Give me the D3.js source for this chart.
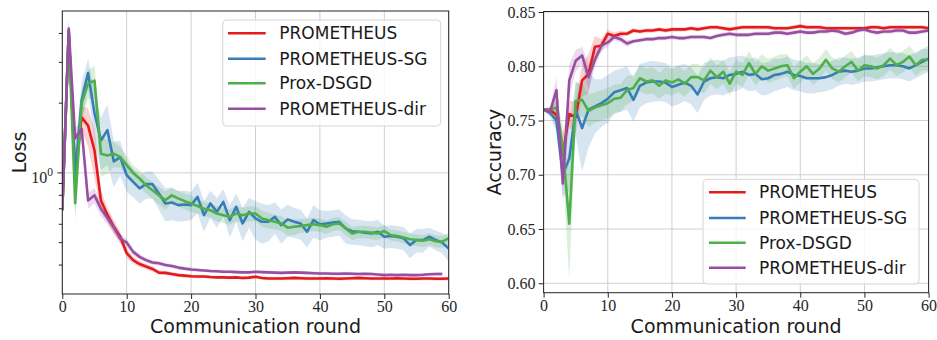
<!DOCTYPE html>
<html><head><meta charset="utf-8">
<script src="https://cdn.jsdelivr.net/npm/d3@7"></script>
<style>body{margin:0;background:#fff}</style>
</head><body><svg id="c" width="937" height="340"></svg>
<script>
// ---------------- DATA ----------------
const seriesNames = ["PROMETHEUS", "PROMETHEUS-SG", "Prox-DSGD", "PROMETHEUS-dir"];
const seriesColors = ["#e41a1c", "#377eb8", "#4daf4a", "#984ea3"];
const xTicks = [0, 10, 20, 30, 40, 50, 60];
const accTicks = [0.60, 0.65, 0.70, 0.75, 0.80, 0.85];
const lossMajorTicks = [1];
const lossMinorTicks = [0.4, 0.5, 0.6, 0.7, 0.8, 0.9, 2, 3, 4];

// Loss (left panel)
const lossProm = [0.69,4.1,0.98,1.74,1.60,1.25,0.76,0.66,0.585,0.53,0.45,0.42,0.404,0.394,0.385,0.371,0.370,0.366,0.362,0.360,0.358,0.357,0.357,0.355,0.354,0.354,0.353,0.354,0.352,0.353,0.356,0.352,0.350,0.350,0.350,0.351,0.352,0.351,0.350,0.350,0.350,0.351,0.350,0.349,0.350,0.351,0.352,0.351,0.350,0.350,0.350,0.350,0.351,0.350,0.349,0.349,0.350,0.350,0.349,0.349,0.350];
const lossPromStd = [0.01,0.3,0.15,0.2,0.3,0.3,0.08,0.05,0.04,0.03,0.02,0.015,0.012,0.01,0.01,0.008,0.008,0.007,0.007,0.007,0.006,0.006,0.006,0.006,0.006,0.006,0.006,0.006,0.006,0.006,0.006,0.006,0.006,0.006,0.006,0.006,0.006,0.006,0.006,0.006,0.006,0.006,0.006,0.006,0.006,0.006,0.006,0.006,0.006,0.006,0.006,0.006,0.006,0.006,0.006,0.006,0.006,0.006,0.006,0.006,0.006];
const lossSG = [0.69,4.1,0.98,2.06,2.70,1.81,1.38,1.53,1.12,1.17,0.977,0.915,0.857,0.894,0.894,0.815,0.738,0.745,0.726,0.73,0.726,0.788,0.657,0.738,0.679,0.75,0.625,0.714,0.605,0.679,0.636,0.615,0.615,0.646,0.595,0.63,0.615,0.605,0.557,0.625,0.60,0.605,0.61,0.615,0.576,0.56,0.557,0.552,0.548,0.557,0.53,0.534,0.53,0.522,0.488,0.513,0.513,0.53,0.513,0.50,0.472];
const lossSGStd = [0.01,0.5,0.3,0.4,0.4,0.45,0.35,0.45,0.25,0.2,0.15,0.13,0.12,0.12,0.12,0.12,0.12,0.12,0.11,0.11,0.1,0.12,0.1,0.1,0.1,0.1,0.1,0.1,0.1,0.1,0.12,0.12,0.11,0.1,0.1,0.1,0.09,0.09,0.08,0.1,0.09,0.08,0.08,0.08,0.08,0.07,0.07,0.07,0.07,0.07,0.06,0.06,0.06,0.06,0.06,0.06,0.06,0.05,0.05,0.05,0.06];
const lossProx = [0.69,4.0,0.74,2.0,2.43,2.50,1.21,1.19,1.21,1.17,1.08,1.0,0.946,0.885,0.842,0.80,0.763,0.80,0.776,0.755,0.738,0.72,0.70,0.69,0.668,0.657,0.646,0.668,0.657,0.668,0.668,0.636,0.625,0.615,0.605,0.58,0.585,0.59,0.595,0.60,0.595,0.585,0.60,0.605,0.576,0.548,0.557,0.557,0.552,0.548,0.561,0.539,0.534,0.526,0.517,0.513,0.509,0.517,0.507,0.505,0.522];
const lossProxStd = [0.01,0.5,0.12,0.3,0.35,0.4,0.25,0.2,0.15,0.12,0.1,0.08,0.08,0.07,0.07,0.07,0.07,0.06,0.06,0.06,0.06,0.05,0.05,0.05,0.05,0.05,0.05,0.05,0.05,0.05,0.05,0.05,0.05,0.045,0.045,0.045,0.045,0.04,0.04,0.04,0.04,0.04,0.04,0.04,0.04,0.035,0.035,0.035,0.035,0.035,0.035,0.03,0.03,0.03,0.03,0.03,0.03,0.03,0.03,0.03,0.03];
const lossDir = [0.69,4.2,1.41,1.55,0.76,0.80,0.70,0.64,0.58,0.52,0.50,0.456,0.434,0.42,0.41,0.407,0.40,0.396,0.39,0.386,0.383,0.381,0.379,0.377,0.376,0.374,0.374,0.373,0.372,0.372,0.374,0.373,0.372,0.371,0.370,0.371,0.372,0.371,0.370,0.369,0.368,0.368,0.367,0.367,0.368,0.367,0.366,0.367,0.366,0.364,0.362,0.363,0.362,0.363,0.362,0.362,0.363,0.365,0.366,0.366];
const lossDirStd = [0.01,0.3,0.15,0.15,0.06,0.06,0.05,0.04,0.03,0.025,0.02,0.015,0.012,0.01,0.01,0.008,0.008,0.008,0.007,0.007,0.007,0.007,0.006,0.006,0.006,0.006,0.006,0.006,0.006,0.006,0.006,0.006,0.006,0.006,0.006,0.006,0.006,0.006,0.006,0.006,0.006,0.006,0.006,0.006,0.006,0.006,0.006,0.006,0.006,0.006,0.006,0.006,0.006,0.006,0.006,0.006,0.006,0.006,0.006,0.006];

// Accuracy (right panel)
const accProm = [0.760,0.760,0.755,0.718,0.756,0.753,0.787,0.793,0.818,0.819,0.830,0.828,0.830,0.830,0.833,0.832,0.833,0.833,0.834,0.833,0.834,0.834,0.834,0.835,0.834,0.835,0.836,0.836,0.835,0.834,0.835,0.836,0.836,0.836,0.836,0.836,0.835,0.835,0.835,0.836,0.837,0.836,0.836,0.836,0.835,0.835,0.835,0.835,0.835,0.835,0.835,0.836,0.836,0.835,0.836,0.836,0.836,0.836,0.836,0.836,0.835];
const accPromStd = [0.001,0.002,0.012,0.02,0.012,0.015,0.015,0.018,0.01,0.006,0.004,0.003,0.003,0.002,0.002,0.002,0.002,0.002,0.002,0.002,0.002,0.002,0.002,0.002,0.002,0.002,0.002,0.002,0.002,0.002,0.002,0.002,0.002,0.002,0.002,0.002,0.002,0.002,0.002,0.002,0.002,0.002,0.002,0.002,0.002,0.002,0.002,0.002,0.002,0.002,0.002,0.002,0.002,0.002,0.002,0.002,0.002,0.002,0.002,0.002,0.002];
const accSG = [0.760,0.757,0.750,0.700,0.715,0.760,0.743,0.760,0.763,0.766,0.770,0.776,0.778,0.780,0.769,0.782,0.785,0.786,0.786,0.785,0.781,0.783,0.785,0.782,0.774,0.786,0.789,0.790,0.789,0.792,0.793,0.795,0.792,0.793,0.788,0.789,0.792,0.793,0.795,0.792,0.791,0.789,0.789,0.789,0.790,0.792,0.795,0.796,0.795,0.796,0.798,0.798,0.799,0.800,0.801,0.801,0.800,0.798,0.801,0.804,0.807];
const accSGStd = [0.001,0.004,0.01,0.02,0.03,0.025,0.04,0.035,0.025,0.022,0.022,0.02,0.02,0.02,0.02,0.02,0.019,0.019,0.018,0.018,0.018,0.018,0.017,0.017,0.017,0.017,0.016,0.016,0.016,0.016,0.016,0.015,0.015,0.015,0.015,0.015,0.015,0.014,0.014,0.014,0.014,0.014,0.014,0.013,0.013,0.013,0.013,0.012,0.012,0.012,0.012,0.012,0.012,0.012,0.012,0.012,0.012,0.012,0.012,0.012,0.012];
const accProx = [0.760,0.760,0.762,0.725,0.655,0.768,0.769,0.759,0.762,0.764,0.766,0.770,0.771,0.778,0.780,0.789,0.786,0.787,0.782,0.787,0.785,0.788,0.784,0.790,0.790,0.787,0.796,0.790,0.795,0.784,0.795,0.792,0.803,0.793,0.800,0.796,0.798,0.800,0.801,0.789,0.795,0.800,0.793,0.798,0.806,0.798,0.795,0.800,0.804,0.796,0.801,0.800,0.798,0.801,0.807,0.801,0.804,0.809,0.801,0.806,0.806];
const accProxStd = [0.001,0.003,0.008,0.02,0.052,0.018,0.015,0.015,0.014,0.014,0.014,0.013,0.013,0.013,0.012,0.012,0.012,0.012,0.012,0.012,0.012,0.012,0.012,0.012,0.012,0.012,0.012,0.011,0.011,0.011,0.011,0.011,0.011,0.011,0.011,0.011,0.011,0.011,0.01,0.01,0.01,0.01,0.01,0.01,0.01,0.01,0.01,0.01,0.01,0.01,0.01,0.01,0.01,0.01,0.01,0.01,0.01,0.01,0.01,0.01,0.01];
const accDir = [0.760,0.758,0.778,0.692,0.787,0.805,0.810,0.790,0.806,0.819,0.822,0.827,0.825,0.821,0.823,0.824,0.825,0.825,0.826,0.826,0.827,0.826,0.826,0.827,0.827,0.827,0.826,0.828,0.829,0.830,0.829,0.829,0.829,0.830,0.830,0.830,0.831,0.831,0.830,0.831,0.832,0.831,0.831,0.832,0.832,0.833,0.832,0.830,0.831,0.833,0.834,0.832,0.831,0.832,0.832,0.833,0.833,0.831,0.831,0.832,0.833];
const accDirStd = [0.001,0.003,0.012,0.018,0.015,0.01,0.008,0.012,0.007,0.005,0.004,0.003,0.003,0.003,0.002,0.002,0.002,0.002,0.002,0.002,0.002,0.002,0.002,0.002,0.002,0.002,0.002,0.002,0.002,0.002,0.002,0.002,0.002,0.002,0.002,0.002,0.002,0.002,0.002,0.002,0.002,0.002,0.002,0.002,0.002,0.002,0.002,0.002,0.002,0.002,0.002,0.002,0.002,0.002,0.002,0.002,0.002,0.002,0.002,0.002,0.002];

// ---------------- DRAW ----------------
const svg = d3.select("#c");
const TICKFONT = "'Liberation Serif', 'Times New Roman', serif";
const SANS = "'DejaVu Sans', sans-serif";
const AXC = "#262626";

function panel(opt) {
  const g = svg.append("g");
  const x = d3.scaleLinear().domain([0, 60]).range([opt.x0, opt.x1]);
  const y = opt.y;
  const clipId = opt.id + "-clip";
  svg.append("clipPath").attr("id", clipId).append("rect")
    .attr("x", opt.x0).attr("y", opt.y1).attr("width", opt.x1 - opt.x0).attr("height", opt.y0 - opt.y1);

  // grid
  const grid = g.append("g").attr("stroke", "#cfcfcf").attr("stroke-width", 1);
  xTicks.forEach(t => grid.append("line").attr("x1", x(t)).attr("x2", x(t)).attr("y1", opt.y0).attr("y2", opt.y1));
  opt.yGrid.forEach(t => grid.append("line").attr("x1", opt.x0).attr("x2", opt.x1).attr("y1", y(t)).attr("y2", y(t)));

  const plot = g.append("g").attr("clip-path", `url(#${clipId})`);
  // bands
  opt.series.forEach((s, k) => {
    const area = d3.area()
      .x((d, i) => x(i))
      .y0((d, i) => y(Math.max(opt.floor, d - s.std[i])))
      .y1((d, i) => y(d + s.std[i]));
    plot.append("path").datum(s.v).attr("d", area)
      .attr("fill", seriesColors[k]).attr("fill-opacity", 0.2).attr("stroke", "none");
  });
  // lines
  opt.series.forEach((s, k) => {
    const line = d3.line().x((d, i) => x(i)).y(d => y(d));
    plot.append("path").datum(s.v).attr("d", line)
      .attr("fill", "none").attr("stroke", seriesColors[k]).attr("stroke-width", 2.6)
      .attr("stroke-linejoin", "round").attr("stroke-linecap", "butt");
  });

  // spines
  g.append("rect").attr("x", opt.x0).attr("y", opt.y1).attr("width", opt.x1 - opt.x0).attr("height", opt.y0 - opt.y1)
    .attr("fill", "none").attr("stroke", AXC).attr("stroke-width", 1);

  // x axis
  const xa = g.append("g").attr("transform", `translate(0,${opt.y0})`)
    .call(d3.axisBottom(x).tickValues(xTicks).tickSize(5).tickPadding(2));
  xa.select(".domain").remove();
  xa.selectAll("line").attr("stroke", AXC);
  xa.selectAll("text").attr("font-family", TICKFONT).attr("font-size", 16).attr("fill", AXC);

  // y axis
  opt.yAxis(g, y);

  // axis labels
  g.append("text").attr("x", (opt.x0 + opt.x1) / 2).attr("y", 333)
    .attr("text-anchor", "middle").attr("font-family", SANS).attr("font-size", 19).attr("fill", "#1a1a1a")
    .text("Communication round");
  g.append("text").attr("transform", `translate(${opt.ylabX},${(opt.y0 + opt.y1) / 2}) rotate(-90)`)
    .attr("text-anchor", "middle").attr("font-family", SANS).attr("font-size", 19).attr("fill", "#1a1a1a")
    .text(opt.ylabel);

  // legend
  const L = opt.legend;
  const lg = g.append("g");
  lg.append("rect").attr("x", L.x).attr("y", L.y).attr("width", L.w).attr("height", L.h).attr("rx", 4)
    .attr("fill", "#fff").attr("fill-opacity", 0.8).attr("stroke", "#d6d6d6").attr("stroke-width", 1);
  seriesNames.forEach((n, k) => {
    const yy = L.rows[k];
    lg.append("line").attr("x1", L.lx0).attr("x2", L.lx1).attr("y1", yy).attr("y2", yy)
      .attr("stroke", seriesColors[k]).attr("stroke-width", 2.6);
    lg.append("text").attr("x", L.tx).attr("y", yy + 6).attr("font-family", SANS).attr("font-size", 17)
      .attr("fill", "#1a1a1a").text(n);
  });
}

// Left: loss (log scale)
panel({
  id: "loss", x0: 62.3, x1: 448.7, y0: 294, y1: 11,
  y: d3.scaleLog().domain([0.3, 5.0]).range([294, 11]),
  floor: 0.2,
  yGrid: lossMajorTicks,
  series: [
    {v: lossProm, std: lossPromStd},
    {v: lossSG, std: lossSGStd},
    {v: lossProx, std: lossProxStd},
    {v: lossDir, std: lossDirStd}
  ],
  ylabel: "Loss", ylabX: 26,
  yAxis: (g, y) => {
    const ax = g.append("g");
    lossMinorTicks.forEach(t => ax.append("line").attr("x1", 62.3).attr("x2", 58.8).attr("y1", y(t)).attr("y2", y(t)).attr("stroke", AXC));
    lossMajorTicks.forEach(t => {
      ax.append("line").attr("x1", 62.3).attr("x2", 57.3).attr("y1", y(t)).attr("y2", y(t)).attr("stroke", AXC);
      const tx = ax.append("text").attr("x", 53).attr("y", y(t) + 10).attr("text-anchor", "end")
        .attr("font-family", TICKFONT).attr("font-size", 16).attr("fill", AXC);
      tx.append("tspan").text("10");
      tx.append("tspan").attr("dy", -7).attr("font-size", 11.5).text("0");
    });
  },
  legend: {x: 222.7, y: 20, w: 218, h: 106, rows: [33.3, 58.7, 83.3, 108.7], lx0: 228, lx1: 265.7, tx: 279.3}
});

// Right: accuracy
panel({
  id: "acc", x0: 543.6, x1: 928.6, y0: 292.7, y1: 11.5,
  y: d3.scaleLinear().domain([0.5913, 0.8505]).range([292.7, 11.5]),
  floor: 0,
  yGrid: accTicks,
  series: [
    {v: accProm, std: accPromStd},
    {v: accSG, std: accSGStd},
    {v: accProx, std: accProxStd},
    {v: accDir, std: accDirStd}
  ],
  ylabel: "Accuracy", ylabX: 501,
  yAxis: (g, y) => {
    const ya = g.append("g").attr("transform", "translate(543.6,0)")
      .call(d3.axisLeft(y).tickValues(accTicks).tickFormat(d3.format(".2f")).tickSize(5).tickPadding(3));
    ya.select(".domain").remove();
    ya.selectAll("line").attr("stroke", AXC);
    ya.selectAll("text").attr("font-family", TICKFONT).attr("font-size", 16).attr("fill", AXC);
  },
  legend: {x: 703, y: 179.3, w: 216, h: 104.7, rows: [192.3, 218, 242.7, 267.7], lx0: 709, lx1: 745.7, tx: 759}
});
</script></body></html>
